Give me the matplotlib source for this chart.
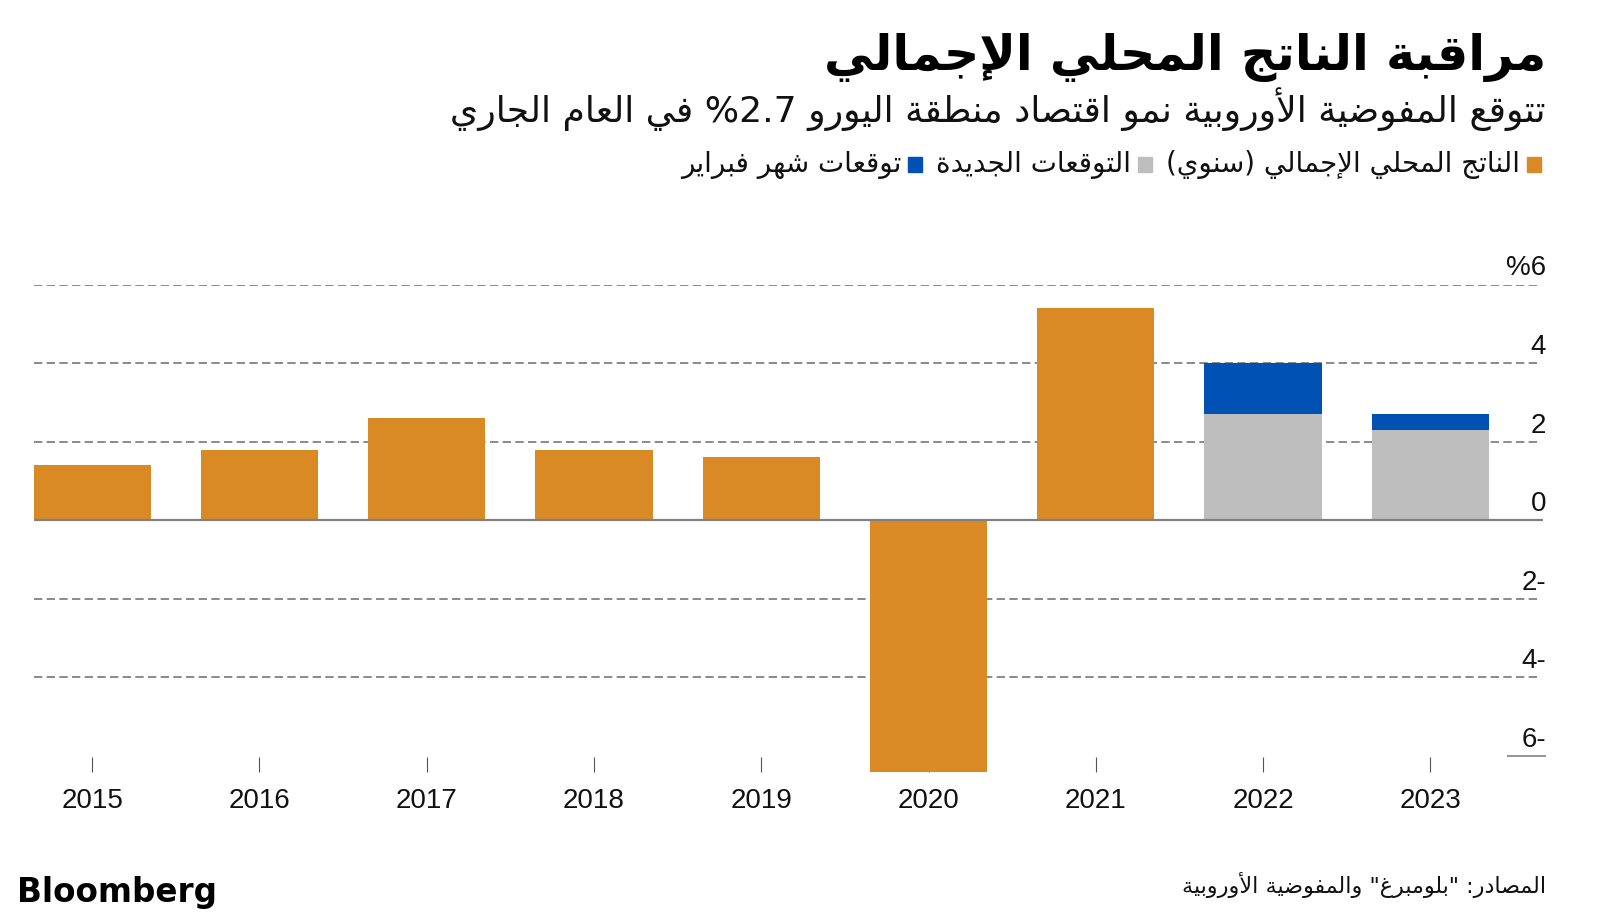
import re
import numpy as np
import matplotlib
matplotlib.use('Agg')
import matplotlib.pyplot as plt
import matplotlib.transforms as mtransforms

years = ['2015', '2016', '2017', '2018', '2019', '2020', '2021', '2022', '2023']
gdp = [1.4, 1.8, 2.6, 1.8, 1.6, -6.4, 5.4, np.nan, np.nan]
new_forecast = [np.nan] * 7 + [2.7, 2.3]
feb_forecast = [np.nan] * 7 + [4.0, 2.7]
ytick_vals = [6, 4, 2, 0, -2, -4, -6]
ytick_labels = ['%6', '4', '2', '0', '2-', '4-', '6-']

title = 'مراقبة الناتج المحلي الإجمالي'
subtitle = 'تتوقع المفوضية الأوروبية نمو اقتصاد منطقة اليورو 2.7% في العام الجاري'
legend_labels = ['الناتج المحلي الإجمالي (سنوي)', 'التوقعات الجديدة', 'توقعات شهر فبراير']
source = 'المصادر: "بلومبرغ" والمفوضية الأوروبية'

ORANGE = '#D98A24'
GREY = '#BEBEBE'
BLUE = '#0051B4'

# --- minimal arabic shaping (matplotlib has no complex text layout) ---
letters = 'ءآأؤإئابةتثجحخدذرزسشصضطظعغفقكلمنهوىي'
nforms = [1, 2, 2, 2, 2, 4, 2, 4, 2, 4, 4, 4, 4, 4, 2, 2, 2, 2, 4, 4, 4, 4,
          4, 4, 4, 4, 4, 4, 4, 4, 4, 4, 4, 2, 2, 4]
FORMS = {}
code = 0xFE80
for ch, nf in zip(letters, nforms):
    FORMS[ch] = (code, nf)
    code += nf
LAMALEF = {'آ': 0xFEF5, 'أ': 0xFEF7, 'إ': 0xFEF9, 'ا': 0xFEFB}


def shape(s):
    res = []
    i = 0
    while i < len(s):
        c = s[i]
        if c not in FORMS:
            res.append(c)
            i += 1
            continue
        prev = s[i - 1] if i > 0 else ''
        linked_prev = prev in FORMS and FORMS[prev][1] == 4
        if c == 'ل' and i + 1 < len(s) and s[i + 1] in LAMALEF:
            res.append(chr(LAMALEF[s[i + 1]] + (1 if linked_prev else 0)))
            i += 2
            continue
        nxt = s[i + 1] if i + 1 < len(s) else ''
        base, nf = FORMS[c]
        linked_next = nf == 4 and nxt in FORMS and FORMS[nxt][1] > 1
        if nf == 1:
            off = 0
        elif linked_prev and linked_next:
            off = 3
        elif linked_prev:
            off = 1
        elif linked_next:
            off = 2
        else:
            off = 0
        res.append(chr(base + off))
        i += 1
    return ''.join(res)


def ar(s):
    # reverse for right-to-left display, keeping digit runs in order
    toks = re.findall(r'[0-9A-Za-z.]+|.', shape(s))
    mirror = {'(': ')', ')': '('}
    return ''.join(mirror.get(t, t) for t in reversed(toks))


AR = ['DejaVu Sans']
NUM = ['Liberation Sans', 'DejaVu Sans']

W, H = 1600, 918
fig = plt.figure(figsize=(W / 100, H / 100), dpi=100)
ax = fig.add_axes([33.7 / W, 1 - 771.8 / H, (1539 - 33.7) / W, (771.8 - 284.5) / H])

x = np.arange(len(years))
ax.bar(x, feb_forecast, width=0.7, color=BLUE, zorder=2)
ax.bar(x, new_forecast, width=0.7, color=GREY, zorder=3)
ax.bar(x, gdp, width=0.7, color=ORANGE, zorder=3)

for v in ytick_vals:
    if v in (0, -6):
        continue
    ax.axhline(v, color='#777777', lw=1.2, ls=(0, (5, 2.6)), zorder=1)
ax.plot([0, 1.0025], [0, 0], transform=ax.get_yaxis_transform(),
        color='#808080', lw=1.6, zorder=4, clip_on=False, solid_capstyle='butt')
ax.plot([0.979, 1.0047], [-6, -6], transform=ax.get_yaxis_transform(),
        color='#808080', lw=1.2, clip_on=False, solid_capstyle='butt')

lab_tr = mtransforms.offset_copy(ax.get_yaxis_transform(), fig=fig, x=0, y=6.5, units='points')
for v, lab in zip(ytick_vals, ytick_labels):
    ax.text(1.0047, v, lab, transform=lab_tr, ha='right', va='baseline',
            fontsize=20, family=NUM, color='#111111')

ax.set_xlim(-0.35, 8.65)
ax.set_ylim(-6.4, 6)
ax.set_xticks(x)
ax.set_xticklabels(years, fontsize=20, family=NUM, color='#111111')
ax.tick_params(axis='x', direction='in', length=11, width=0.8, color='#555555', pad=12)
ax.set_yticks([])
for sp in ax.spines.values():
    sp.set_visible(False)

# titles
fig.text(1546 / W, 1 - 70 / H, ar(title), ha='right', va='baseline',
         fontsize=35.5, fontweight='bold', family=AR, color='#000000')
fig.text(1546 / W, 1 - 122 / H, ar(subtitle), ha='right', va='baseline',
         fontsize=26, family=AR, color='#111111')

# legend, laid out right to left
fig.canvas.draw()
renderer = fig.canvas.get_renderer()
xr = 1541
for lab, col in zip(legend_labels, [ORANGE, GREY, BLUE]):
    fig.patches.append(plt.Rectangle(((xr - 14) / W, 1 - 172 / H), 14 / W, 15 / H,
                                     transform=fig.transFigure, color=col))
    t = fig.text((xr - 21) / W, 1 - 172 / H, ar(lab), ha='right', va='baseline',
                 fontsize=20, family=AR, color='#111111')
    bb = t.get_window_extent(renderer)
    xr = bb.x0 - 14

fig.text(1546 / W, 1 - 893 / H, ar(source), ha='right', va='baseline',
         fontsize=16, family=AR, color='#111111')
fig.text(17 / W, 1 - 902 / H, 'Bloomberg', ha='left', va='baseline',
         fontsize=23.5, fontweight='bold', family=['DejaVu Sans'], color='#000000')

fig.savefig('out.png', dpi=100, facecolor='white')
